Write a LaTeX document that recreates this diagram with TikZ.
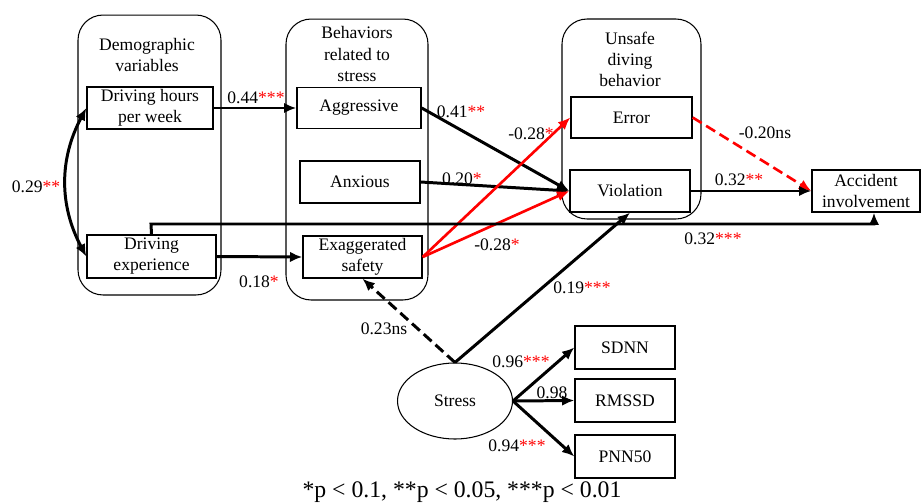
\documentclass[tikz,border=0pt]{standalone}
\usepackage{fontspec}
\setmainfont{Liberation Serif}
\usetikzlibrary{positioning,shapes.geometric,arrows.meta}
\newcommand{\signif}[1]{\textcolor{red}{#1}}

\begin{document}
\begin{tikzpicture}[>={Latex[length=7pt,width=6pt]},x=0.02cm,y=-0.02cm,
    grp/.style={draw,rounded corners=0.5cm,line width=0.6pt},
    var/.style={draw,line width=0.8pt,inner sep=1pt,align=center},
    arr/.style={->,line width=1.7pt},
    redarr/.style={->,line width=1.5pt,red}]
        \useasboundingbox (0,0) rectangle (921,504);
        % group boxes
        \node[grp,minimum width=2.86cm,minimum height=5.6cm] (demo) at (149.5,155) {};
        \node[grp,minimum width=2.84cm,minimum height=5.62cm] (behav) at (357,159.5) {};
        \node[grp,minimum width=2.78cm,minimum height=4.0cm] (unsafe) at (631.5,119) {};
        \node[align=center] (demotitle) at (147,55) {Demographic\\variables};
        \node[align=center] (behavtitle) at (357,54) {Behaviors\\related to\\stress};
        \node[align=center] (unsafetitle) at (630,59) {Unsafe\\diving\\behavior};
        % variables
        \node[var,minimum width=2.52cm,minimum height=0.84cm] (hours) at (150,108) {Driving hours\\per week};
        \node[var,minimum width=2.58cm,minimum height=0.86cm] (exper) at (151.5,256.5) {Driving\\experience};
        \node[var,minimum width=2.48cm,minimum height=0.82cm] (aggr) at (359,108) {Aggressive};
        \node[var,minimum width=2.4cm,minimum height=0.84cm] (anx) at (360,182) {Anxious};
        \node[var,minimum width=2.38cm,minimum height=0.84cm] (exag) at (362.5,257) {Exaggerated\\safety};
        \node[var,minimum width=2.42cm,minimum height=0.82cm] (error) at (631.5,117.5) {Error};
        \node[var,minimum width=2.4cm,minimum height=0.84cm] (viol) at (630,191) {Violation};
        \node[var,minimum width=2.16cm,minimum height=0.84cm] (acc) at (866,191) {Accident\\involvement};
        \node[draw,ellipse,line width=0.6pt,minimum width=2.3cm,minimum height=1.52cm] (stress) at (455,401) {Stress};
        \node[var,minimum width=2.0cm,minimum height=0.86cm] (sdnn) at (625,347.5) {SDNN};
        \node[var,minimum width=2.0cm,minimum height=0.86cm] (rmssd) at (625,400.5) {RMSSD};
        \node[var,minimum width=2.0cm,minimum height=0.86cm] (pnn) at (625,456.5) {PNN50};
        % paths
        \draw[arr,<->] (hours.west) to[bend right=28] (exper.west);
        \draw[arr] (hours.east) -- (aggr.west);
        \draw[arr] (exper.east) -- (exag.west);
        \draw[arr] (aggr.east) -- (viol.west);
        \draw[arr] (anx.east) -- (viol.west);
        \draw[redarr] (exag.east) -- (error.west);
        \draw[redarr] (exag.east) -- (viol.west);
        \draw[redarr,dash pattern=on 6pt off 3pt] (error.east) -- (acc.west);
        \draw[arr] (viol.east) -- (acc.west);
        \coordinate (turn) at (151,224);
        \draw[arr] (exper.north) -- (turn) -| ([xshift=0.16cm]acc.south);
        \draw[arr] (stress.north) -- (viol.south);
        \draw[arr,dash pattern=on 6pt off 3pt] (stress.north) -- (exag.south);
        \draw[arr] (stress.east) -- (sdnn.west);
        \draw[arr] (stress.east) -- (rmssd.west);
        \draw[arr] (stress.east) -- (pnn.west);
        % coefficients
        \node (c029) at (36,187) {0.29\signif{**}};
        \node (c044) at (256,98) {0.44\signif{***}};
        \node (c018) at (259,282) {0.18\signif{*}};
        \node (c041) at (461,112) {0.41\signif{**}};
        \node (c020) at (462,179) {0.20\signif{*}};
        \node (c028a) at (531,134) {-0.28\signif{*}};
        \node (c028b) at (497,245) {-0.28\signif{*}};
        \node (c020ns) at (765,133) {-0.20ns};
        \node (c032a) at (739,180) {0.32\signif{**}};
        \node (c032b) at (713,239) {0.32\signif{***}};
        \node (c019) at (582,288) {0.19\signif{***}};
        \node (c023) at (384,329) {0.23ns};
        \node (c096) at (521,362) {0.96\signif{***}};
        \node (c098) at (552,393) {0.98};
        \node (c094) at (517,446) {0.94\signif{***}};
        \node (note) at (462,492) {\fontsize{13.5}{16}\selectfont *p < 0.1, **p < 0.05, ***p < 0.01};
    \end{tikzpicture}
\end{document}
